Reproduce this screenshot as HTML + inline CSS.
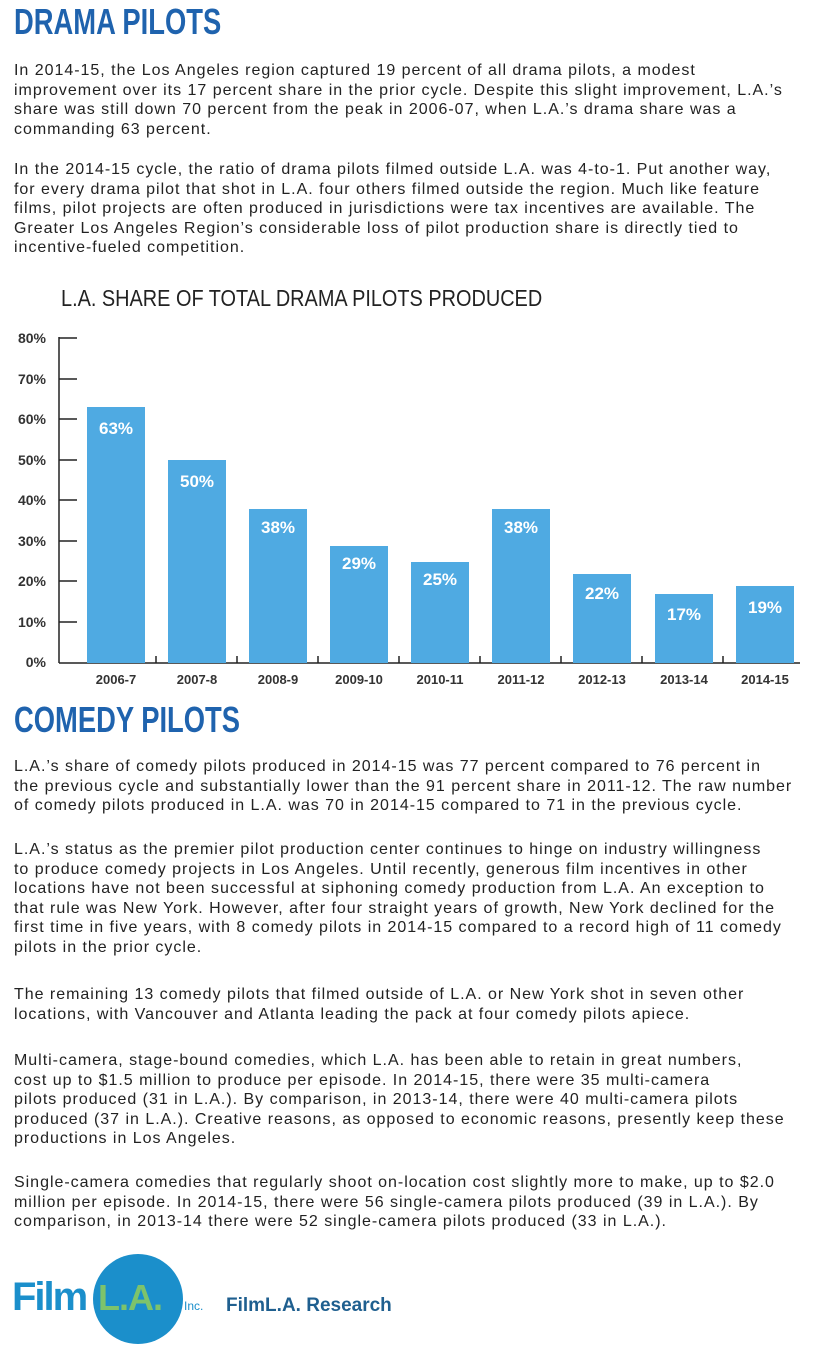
<!DOCTYPE html>
<html><head><meta charset="utf-8"><style>
body{margin:0;width:819px;height:1356px;background:#fff;position:relative;overflow:hidden;font-family:"Liberation Sans",sans-serif;color:#222}
.h{position:absolute;left:14px;font-weight:bold;color:#1f63ae;font-size:36px;line-height:36px;transform:scaleX(0.76);transform-origin:0 0;white-space:nowrap}
.p{position:absolute;left:14px;font-size:16px;line-height:19.5px;white-space:nowrap;letter-spacing:0.98px}
</style></head><body>
<div class="h" style="top:4px">DRAMA PILOTS</div>
<div class="p" style="top:61px">In 2014-15, the Los Angeles region captured 19 percent of all drama pilots, a modest<br>improvement over its 17 percent share in the prior cycle. Despite this slight improvement, L.A.’s<br>share was still down 70 percent from the peak in 2006-07, when L.A.’s drama share was a<br>commanding 63 percent.</div>
<div class="p" style="top:160px">In the 2014-15 cycle, the ratio of drama pilots filmed outside L.A. was 4-to-1. Put another way,<br>for every drama pilot that shot in L.A. four others filmed outside the region. Much like feature<br>films, pilot projects are often produced in jurisdictions were tax incentives are available. The<br>Greater Los Angeles Region’s considerable loss of pilot production share is directly tied to<br>incentive-fueled competition.</div>
<svg style="position:absolute;left:0;top:280px" width="819" height="420" viewBox="0 280 819 420">
<text x="61" y="306" font-family="Liberation Sans,sans-serif" font-size="23" fill="#222" transform="translate(61 0) scale(0.865 1) translate(-61 0)">L.A. SHARE OF TOTAL DRAMA PILOTS PRODUCED</text>
<g font-family="Liberation Sans,sans-serif" font-size="14" font-weight="bold" fill="#333" text-anchor="end">
<text x="46" y="343">80%</text><text x="46" y="384">70%</text><text x="46" y="424">60%</text><text x="46" y="465">50%</text><text x="46" y="505">40%</text><text x="46" y="546">30%</text><text x="46" y="586">20%</text><text x="46" y="627">10%</text><text x="46" y="667">0%</text>
</g>
<g stroke="#222" stroke-width="1.5">
<line x1="59" y1="337" x2="59" y2="663"/><line x1="59" y1="663" x2="800" y2="663"/>
<line x1="59" y1="338" x2="77" y2="338"/><line x1="59" y1="379" x2="77" y2="379"/><line x1="59" y1="419" x2="77" y2="419"/><line x1="59" y1="460" x2="77" y2="460"/><line x1="59" y1="500" x2="77" y2="500"/><line x1="59" y1="541" x2="77" y2="541"/><line x1="59" y1="581" x2="77" y2="581"/><line x1="59" y1="622" x2="77" y2="622"/>
<line x1="156" y1="656" x2="156" y2="663"/><line x1="237" y1="656" x2="237" y2="663"/><line x1="318" y1="656" x2="318" y2="663"/><line x1="399" y1="656" x2="399" y2="663"/><line x1="480" y1="656" x2="480" y2="663"/><line x1="561" y1="656" x2="561" y2="663"/><line x1="642" y1="656" x2="642" y2="663"/><line x1="723" y1="656" x2="723" y2="663"/>
</g>
<g fill="#4faae2">
<rect x="87" y="407" width="58" height="256"/><rect x="168" y="460" width="58" height="203"/><rect x="249" y="509" width="58" height="154"/><rect x="330" y="546" width="58" height="117"/><rect x="411" y="562" width="58" height="101"/><rect x="492" y="509" width="58" height="154"/><rect x="573" y="574" width="58" height="89"/><rect x="655" y="594" width="58" height="69"/><rect x="736" y="586" width="58" height="77"/>
</g>
<g font-family="Liberation Sans,sans-serif" font-size="17" font-weight="bold" fill="#fff" text-anchor="middle">
<text x="116" y="434">63%</text><text x="197" y="487">50%</text><text x="278" y="533">38%</text><text x="359" y="569">29%</text><text x="440" y="585">25%</text><text x="521" y="533">38%</text><text x="602" y="599">22%</text><text x="684" y="620">17%</text><text x="765" y="613">19%</text>
</g>
<g font-family="Liberation Sans,sans-serif" font-size="13" font-weight="bold" fill="#333" text-anchor="middle">
<text x="116" y="684">2006-7</text><text x="197" y="684">2007-8</text><text x="278" y="684">2008-9</text><text x="359" y="684">2009-10</text><text x="440" y="684">2010-11</text><text x="521" y="684">2011-12</text><text x="602" y="684">2012-13</text><text x="684" y="684">2013-14</text><text x="765" y="684">2014-15</text>
</g>
</svg>
<div class="h" style="top:702px">COMEDY PILOTS</div>
<div class="p" style="top:757px">L.A.’s share of comedy pilots produced in 2014-15 was 77 percent compared to 76 percent in<br>the previous cycle and substantially lower than the 91 percent share in 2011-12. The raw number<br>of comedy pilots produced in L.A. was 70 in 2014-15 compared to 71 in the previous cycle.</div>
<div class="p" style="top:840px">L.A.’s status as the premier pilot production center continues to hinge on industry willingness<br>to produce comedy projects in Los Angeles. Until recently, generous film incentives in other<br>locations have not been successful at siphoning comedy production from L.A. An exception to<br>that rule was New York. However, after four straight years of growth, New York declined for the<br>first time in five years, with 8 comedy pilots in 2014-15 compared to a record high of 11 comedy<br>pilots in the prior cycle.</div>
<div class="p" style="top:985px">The remaining 13 comedy pilots that filmed outside of L.A. or New York shot in seven other<br>locations, with Vancouver and Atlanta leading the pack at four comedy pilots apiece.</div>
<div class="p" style="top:1051px">Multi-camera, stage-bound comedies, which L.A. has been able to retain in great numbers,<br>cost up to $1.5 million to produce per episode. In 2014-15, there were 35 multi-camera<br>pilots produced (31 in L.A.). By comparison, in 2013-14, there were 40 multi-camera pilots<br>produced (37 in L.A.). Creative reasons, as opposed to economic reasons, presently keep these<br>productions in Los Angeles.</div>
<div class="p" style="top:1173px">Single-camera comedies that regularly shoot on-location cost slightly more to make, up to $2.0<br>million per episode. In 2014-15, there were 56 single-camera pilots produced (39 in L.A.). By<br>comparison, in 2013-14 there were 52 single-camera pilots produced (33 in L.A.).</div>
<div style="position:absolute;left:93px;top:1254px;width:90px;height:90px;border-radius:50%;background:#1b8fcb"></div>
<div style="position:absolute;left:12px;top:1277px;font-weight:bold;font-size:40px;line-height:40px;color:#1b8fcb;letter-spacing:-2px">Film</div>
<div style="position:absolute;left:98px;top:1278px;font-weight:bold;font-size:36px;line-height:40px;color:#7dc36b;letter-spacing:-1px">L.A.</div>
<div style="position:absolute;left:184px;top:1299px;font-size:12px;color:#1b8fcb">Inc.</div>
<div style="position:absolute;left:226px;top:1295px;font-weight:bold;font-size:19px;color:#1f5f8f">FilmL.A. Research</div>
</body></html>
